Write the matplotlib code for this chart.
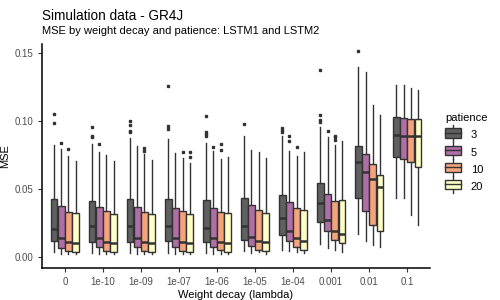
import numpy as np
import matplotlib.pyplot as plt
from matplotlib.legend_handler import HandlerBase
from matplotlib.patches import Rectangle
from matplotlib.lines import Line2D

plt.rcParams['font.family'] = ['Liberation Sans', 'DejaVu Sans']

decays = ["0", "1e-10", "1e-09", "1e-07", "1e-06", "1e-05", "1e-04", "0.001", "0.01", "0.1"]
patience = ["3", "5", "10", "20"]
colors = ["#606060", "#B06EA6", "#F4A47C", "#FEFEC6"]

# per patience: rows = weight decay, cols = (whislo, q1, med, q3, whishi)
stats_3 = [
    [0.0035, 0.0115, 0.0208, 0.0424, 0.0820],
    [0.0027, 0.0108, 0.0223, 0.0410, 0.0831],
    [0.0027, 0.0108, 0.0223, 0.0424, 0.0873],
    [0.0027, 0.0115, 0.0223, 0.0424, 0.0863],
    [0.0027, 0.0108, 0.0215, 0.0417, 0.0836],
    [0.0042, 0.0123, 0.0230, 0.0431, 0.0890],
    [0.0049, 0.0160, 0.0289, 0.0454, 0.0888],
    [0.0093, 0.0255, 0.0392, 0.0542, 0.0953],
    [0.0167, 0.0431, 0.0693, 0.0814, 0.1397],
    [0.0431, 0.0733, 0.0892, 0.1027, 0.1265],
]
stats_5 = [
    [0.0020, 0.0066, 0.0142, 0.0373, 0.0794],
    [0.0020, 0.0071, 0.0142, 0.0365, 0.0772],
    [0.0020, 0.0071, 0.0142, 0.0365, 0.0816],
    [0.0020, 0.0071, 0.0142, 0.0358, 0.0762],
    [0.0020, 0.0071, 0.0142, 0.0358, 0.0779],
    [0.0027, 0.0079, 0.0149, 0.0380, 0.0787],
    [0.0042, 0.0115, 0.0193, 0.0402, 0.0779],
    [0.0068, 0.0189, 0.0272, 0.0461, 0.0877],
    [0.0120, 0.0336, 0.0625, 0.0755, 0.1360],
    [0.0431, 0.0718, 0.0885, 0.1020, 0.1265],
]
stats_10 = [
    [0.0020, 0.0044, 0.0108, 0.0329, 0.0743],
    [0.0020, 0.0044, 0.0108, 0.0336, 0.0750],
    [0.0020, 0.0044, 0.0108, 0.0329, 0.0755],
    [0.0020, 0.0044, 0.0108, 0.0336, 0.0726],
    [0.0020, 0.0049, 0.0108, 0.0329, 0.0721],
    [0.0035, 0.0049, 0.0120, 0.0343, 0.0772],
    [0.0035, 0.0071, 0.0142, 0.0358, 0.0743],
    [0.0049, 0.0123, 0.0193, 0.0410, 0.0821],
    [0.0086, 0.0233, 0.0569, 0.0682, 0.1118],
    [0.0304, 0.0696, 0.0885, 0.1013, 0.1243],
]
stats_20 = [
    [0.0020, 0.0035, 0.0101, 0.0321, 0.0706],
    [0.0020, 0.0035, 0.0101, 0.0314, 0.0706],
    [0.0020, 0.0035, 0.0101, 0.0314, 0.0713],
    [0.0020, 0.0035, 0.0101, 0.0314, 0.0691],
    [0.0020, 0.0035, 0.0101, 0.0321, 0.0730],
    [0.0020, 0.0042, 0.0108, 0.0321, 0.0728],
    [0.0027, 0.0049, 0.0120, 0.0343, 0.0772],
    [0.0035, 0.0101, 0.0171, 0.0417, 0.0853],
    [0.0071, 0.0189, 0.0510, 0.0601, 0.1044],
    [0.0233, 0.0660, 0.0885, 0.1013, 0.1228],
]
fliers_3 = [
    [0.1046, 0.0980], [0.0950, 0.0885, 0.0877], [0.1000, 0.0966, 0.0924, 0.0914],
    [0.1252, 0.0958, 0.0936], [0.1032, 0.0914, 0.0902, 0.0885], [0.0973],
    [0.0943, 0.0930, 0.0914], [0.1370, 0.1042, 0.1003, 0.0990], [0.1515], [],
]
fliers_5 = [
    [0.0838], [0.0826], [], [], [0.0804], [], [0.0890, 0.0853], [0.0921], [], [],
]
fliers_10 = [
    [0.0789], [], [0.0799, 0.0777], [0.0772], [0.0826, 0.0782], [], [0.0809],
    [0.0890, 0.0880, 0.0858], [], [],
]
fliers_20 = [
    [], [], [], [0.0767, 0.0735], [], [], [], [], [], [],
]

all_stats = [stats_3, stats_5, stats_10, stats_20]
all_fliers = [fliers_3, fliers_5, fliers_10, fliers_20]

fig = plt.figure(figsize=(5, 3), dpi=100)
ax = fig.add_axes([0.084, 0.107, 0.776, 0.745])

line_col = "#333333"
step = 0.75 / 4
for k in range(4):
    boxes = []
    for i in range(len(decays)):
        lo, q1, med, q3, hi = all_stats[k][i]
        boxes.append(dict(whislo=lo, q1=q1, med=med, q3=q3, whishi=hi,
                          fliers=all_fliers[k][i]))
    pos = np.arange(1, len(decays) + 1) - 0.375 + step * (k + 0.5)
    ax.bxp(boxes, positions=pos, widths=step * 0.92, patch_artist=True,
           showcaps=False,
           boxprops=dict(facecolor=colors[k], edgecolor=line_col, linewidth=1.0),
           whiskerprops=dict(color=line_col, linewidth=1.0),
           medianprops=dict(color=line_col, linewidth=1.8),
           flierprops=dict(marker='s', markersize=1.8, markerfacecolor=line_col,
                           markeredgecolor=line_col, linestyle='none'))

ax.set_xlim(0.4, 10.6)
ax.set_ylim(-0.0081, 0.156)
ax.set_xticks(np.arange(1, len(decays) + 1))
ax.set_xticklabels(decays)
ax.set_yticks([0.0, 0.05, 0.1, 0.15])
ax.set_yticklabels(["0.00", "0.05", "0.10", "0.15"])
ax.tick_params(labelsize=7, colors="#333333", labelcolor="#4d4d4d", length=3, width=0.8)
for s in ["top", "right"]:
    ax.spines[s].set_visible(False)
for s in ["left", "bottom"]:
    ax.spines[s].set_linewidth(1.1)
ax.set_xlabel("Weight decay (lambda)", fontsize=8, labelpad=2)
ax.set_ylabel("MSE", fontsize=8, labelpad=3)

fig.text(0.084, 0.935, "Simulation data - GR4J", fontsize=9.8, va='baseline')
fig.text(0.084, 0.888, "MSE by weight decay and patience: LSTM1 and LSTM2",
         fontsize=8, va='baseline')


class BoxKey(HandlerBase):
    def create_artists(self, legend, orig_handle, xd, yd, width, height, fontsize, trans):
        cx = xd + width / 2
        box = Rectangle((xd, yd), width, height, facecolor=orig_handle.get_facecolor(),
                        edgecolor=line_col, linewidth=1.0, transform=trans)
        mid = Line2D([xd, xd + width], [yd + height / 2] * 2, color=line_col,
                     linewidth=1.0, transform=trans)
        top = Line2D([cx, cx], [yd + height, yd + height * 1.4], color=line_col,
                     linewidth=1.0, transform=trans)
        bot = Line2D([cx, cx], [yd, yd - height * 0.4], color=line_col,
                     linewidth=1.0, transform=trans)
        return [top, bot, box, mid]


handles = [Rectangle((0, 0), 1, 1, facecolor=c) for c in colors]
leg = fig.legend(handles, patience, title="patience", loc='upper left',
                 bbox_to_anchor=(0.875, 0.648), frameon=False, fontsize=8,
                 title_fontsize=8, handlelength=1.4, handleheight=0.9,
                 labelspacing=0.6, handletextpad=0.9, borderpad=0.2,
                 handler_map={Rectangle: BoxKey()})
leg._legend_box.align = "left"

fig.savefig("out.png", dpi=100)
